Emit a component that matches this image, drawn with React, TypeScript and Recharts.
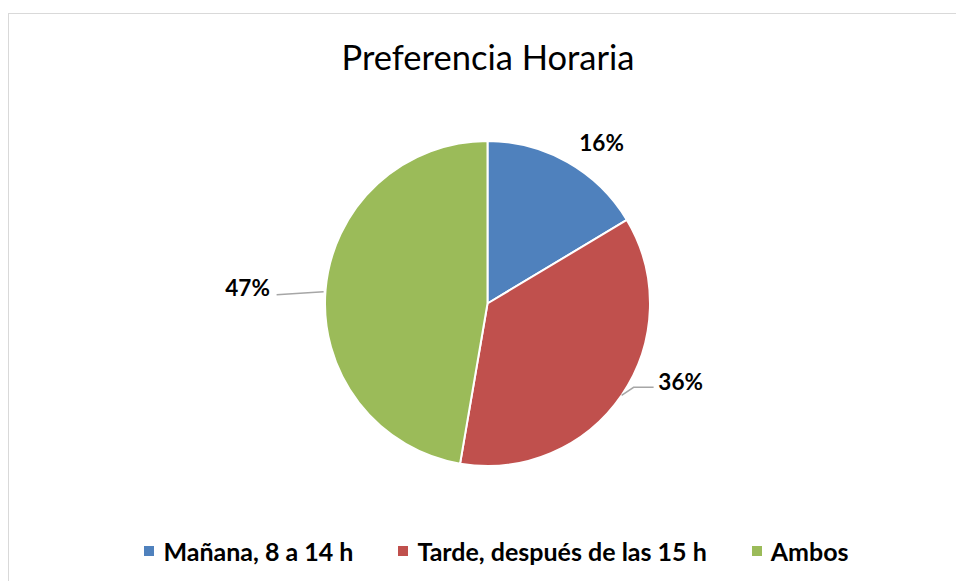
import React from 'react';
import { PieChart, Pie, Cell, Legend } from 'recharts';

const categories = ['Mañana, 8 a 14 h', 'Tarde, después de las 15 h', 'Ambos'];
const shares = [16.4, 36.3, 47.3];
const colors = ['#4F81BD', '#C0504D', '#9BBB59'];

const data = categories.map((name, i) => ({ name, value: shares[i] }));

const RADIAN = Math.PI / 180;
const FONT = 'Lato, "Open Sans", sans-serif';

// where Excel put each label, relative to the slice's outer edge point
const labelPlacement = [
  { dx: 34, dy: -20, line: null as null | number[][] },
  { dx: 59, dy: -14, line: [[0, 0], [12, -8], [32, -8]] },
  { dx: -78, dy: -2, line: [[-2, 2], [-49, 5]] },
];

const renderLabel = (props: any) => {
  const { cx, cy, midAngle, outerRadius, index, value } = props;
  const ex = cx + outerRadius * Math.cos(-midAngle * RADIAN);
  const ey = cy + outerRadius * Math.sin(-midAngle * RADIAN);
  const p = labelPlacement[index];
  return (
    <g key={`lbl-${index}`}>
      {p.line && (
        <polyline
          points={p.line.map(([x, y]) => `${ex + x},${ey + y}`).join(' ')}
          fill="none"
          stroke="#a6a6a6"
          strokeWidth={1.5}
        />
      )}
      <text
        x={ex + p.dx}
        y={ey + p.dy}
        textAnchor="middle"
        dominantBaseline="central"
        fill="#000"
        fontFamily={FONT}
        fontWeight={700}
        fontSize={22.5}
      >
        {`${Math.round(value)}%`}
      </text>
    </g>
  );
};

const renderLegend = () => (
  <div
    style={{
      display: 'flex',
      justifyContent: 'center',
      alignItems: 'center',
      fontFamily: FONT,
      fontWeight: 700,
      fontSize: 25,
      color: '#000',
      gap: 45,
      paddingLeft: 37,
    }}
  >
    {categories.map((c, i) => (
      <div key={c} style={{ display: 'flex', alignItems: 'center' }}>
        <span style={{ width: 10, height: 10, background: colors[i], marginRight: 9, display: 'inline-block' }} />
        <span>{c}</span>
      </div>
    ))}
  </div>
);

export default function App() {
  return (
    <div style={{ position: 'absolute', left: 0, top: 0, width: 956, height: 581, background: '#fff', overflow: 'hidden' }}>
      <div
        style={{
          position: 'absolute',
          left: 8,
          top: 13,
          width: 1000,
          height: 700,
          border: '1.5px solid #d9d9d9',
          boxSizing: 'border-box',
        }}
      />
      <div
        style={{
          position: 'absolute',
          left: 0,
          width: 976,
          top: 36,
          textAlign: 'center',
          fontFamily: FONT,
          fontSize: 34.5,
          color: '#000',
          lineHeight: '42px',
        }}
      >
        Preferencia Horaria
      </div>
      <div style={{ position: 'absolute', left: 0, top: 0 }}>
        <PieChart width={956} height={581}>
          <Pie
            data={data}
            dataKey="value"
            nameKey="name"
            cx={482.5}
            cy={298.5}
            outerRadius={162.5}
            startAngle={90}
            endAngle={-270}
            stroke="#fff"
            strokeWidth={2}
            label={renderLabel}
            labelLine={false}
            isAnimationActive={false}
          >
            {data.map((d, i) => (
              <Cell key={d.name} fill={colors[i]} />
            ))}
          </Pie>
          <Legend
            content={renderLegend}
            verticalAlign="bottom"
            wrapperStyle={{ bottom: 15, left: 0, width: 956 }}
          />
        </PieChart>
      </div>
    </div>
  );
}
